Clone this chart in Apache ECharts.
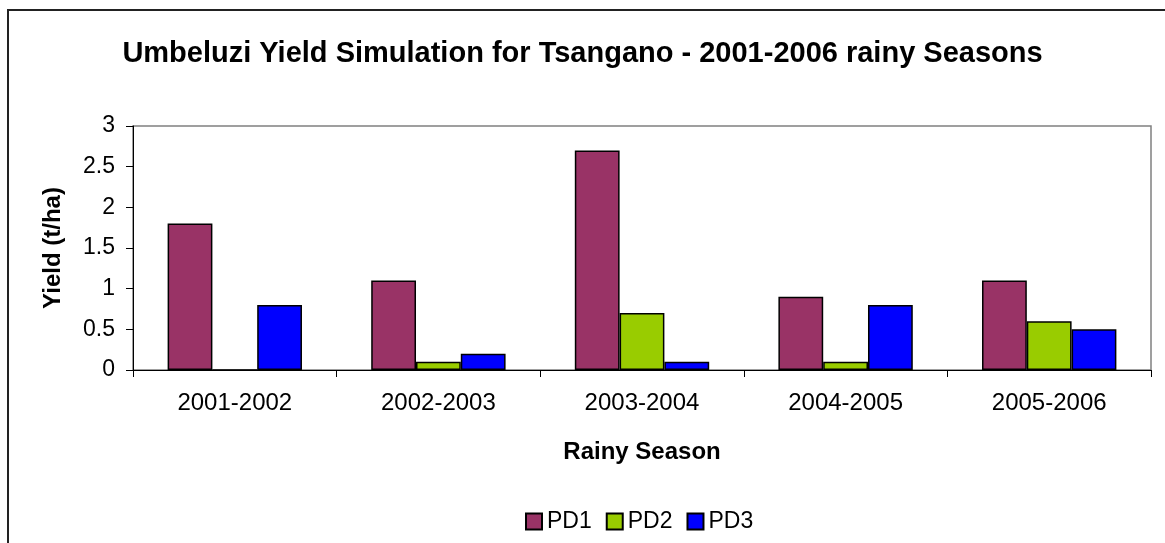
<!DOCTYPE html>
<html>
<head>
<meta charset="utf-8">
<script src="https://cdn.jsdelivr.net/npm/echarts@6/dist/echarts.min.js"></script>
<style>
  html, body { margin: 0; padding: 0; background: #fff; }
  #chart { width: 1165px; height: 543px; }
</style>
</head>
<body>
<div id="chart"></div>
<script>
// data
const seasons = ['2001-2002', '2002-2003', '2003-2004', '2004-2005', '2005-2006'];
const pd1 = [1.8, 1.1, 2.7, 0.9, 1.1];
const pd2 = [0, 0.1, 0.7, 0.1, 0.6];
const pd3 = [0.8, 0.2, 0.1, 0.8, 0.5];
const yTicks = [0, 0.5, 1, 1.5, 2, 2.5, 3];

const font = '"Liberation Sans", Arial, sans-serif';

function barSeries(name, data, color) {
  return {
    name: name,
    type: 'bar',
    data: data,
    barWidth: '22%',
    barGap: '0%',
    itemStyle: {color: color, borderColor: '#000', borderWidth: 1.5},
    emphasis: {disabled: true}
  };
}

const chart = echarts.init(document.getElementById('chart'));
chart.setOption({
  animation: false,
  textStyle: {fontFamily: font},
  title: {
    text: 'Umbeluzi Yield Simulation for Tsangano - 2001-2006 rainy Seasons',
    left: 'center',
    top: 34,
    textStyle: {fontFamily: font, fontSize: 29, fontWeight: 'bold', color: '#000'}
  },
  graphic: [{
    type: 'rect',
    shape: {x: 8, y: 10, width: 1200, height: 600},
    style: {fill: 'none', stroke: '#222', lineWidth: 2},
    silent: true
  }],
  legend: {
    bottom: 5,
    left: 520,
    itemWidth: 16,
    itemHeight: 16,
    itemGap: 14,
    icon: 'rect',
    textStyle: {fontFamily: font, fontSize: 23, color: '#000'},
    data: ['PD1', 'PD2', 'PD3']
  },
  grid: {
    left: 133, right: 14, top: 126, bottom: 173,
    show: true, borderColor: '#808080', borderWidth: 1.5, backgroundColor: '#fff'
  },
  xAxis: {
    type: 'category',
    data: seasons,
    name: 'Rainy Season',
    nameLocation: 'middle',
    nameGap: 70,
    nameTextStyle: {fontFamily: font, fontSize: 24, fontWeight: 'bold', color: '#000'},
    axisLine: {lineStyle: {color: '#000', width: 1}},
    axisTick: {show: true, length: 7, lineStyle: {color: '#000'}},
    axisLabel: {fontFamily: font, fontSize: 24, color: '#000', margin: 21}
  },
  yAxis: {
    type: 'value',
    min: yTicks[0],
    max: yTicks[yTicks.length - 1],
    interval: 0.5,
    name: 'Yield (t/ha)',
    nameLocation: 'middle',
    nameGap: 68,
    nameTextStyle: {fontFamily: font, fontSize: 24, fontWeight: 'bold', color: '#000'},
    axisLine: {show: true, lineStyle: {color: '#000', width: 1}},
    axisTick: {show: true, length: 7, lineStyle: {color: '#000'}},
    axisLabel: {fontFamily: font, fontSize: 23, color: '#000', margin: 18},
    splitLine: {show: false}
  },
  series: [
    barSeries('PD1', pd1, '#993366'),
    barSeries('PD2', pd2, '#99CC00'),
    barSeries('PD3', pd3, '#0000FF')
  ]
});
</script>
</body>
</html>
